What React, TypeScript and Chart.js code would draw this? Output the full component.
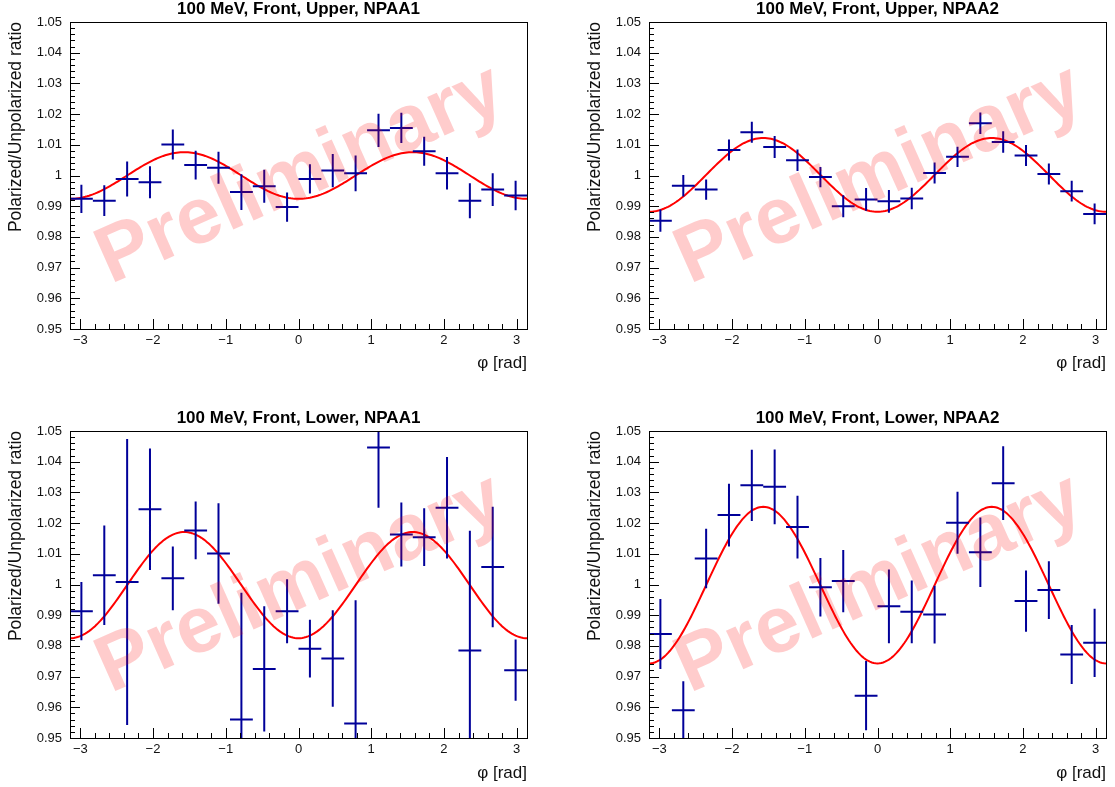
import React, { useEffect, useRef } from 'react';
import { Chart, registerables } from 'chart.js';

Chart.register(...registerables);

// ---------- data ----------
const BIN_CENTERS = [
  -2.985, -2.670, -2.356, -2.042, -1.728, -1.414, -1.100, -0.785, -0.471, -0.157,
  0.157, 0.471, 0.785, 1.100, 1.414, 1.728, 2.042, 2.356, 2.670, 2.985,
];
const BIN_HALF_WIDTH = 0.157;

const TITLES = [
  '100 MeV, Front, Upper, NPAA1',
  '100 MeV, Front, Upper, NPAA2',
  '100 MeV, Front, Lower, NPAA1',
  '100 MeV, Front, Lower, NPAA2',
];

const UPPER_NPAA1_VALUES = [
  0.9924, 0.9918, 0.9989, 0.9978, 1.0101, 1.0034, 1.0025, 0.9946, 0.9965, 0.9897,
  0.9989, 1.0016, 1.0007, 1.0147, 1.0155, 1.0079, 1.0007, 0.9918, 0.9954, 0.9935,
];
const UPPER_NPAA1_ERRORS = [
  0.0046, 0.0050, 0.0057, 0.0052, 0.0049, 0.0047, 0.0052, 0.0058, 0.0054, 0.0048,
  0.0048, 0.0054, 0.0058, 0.0054, 0.0049, 0.0047, 0.0053, 0.0057, 0.0053, 0.0048,
];

const UPPER_NPAA2_VALUES = [
  0.9853, 0.9967, 0.9954, 1.0083, 1.0141, 1.0093, 1.0050, 0.9995, 0.9900, 0.9922,
  0.9916, 0.9925, 1.0008, 1.0061, 1.0170, 1.0109, 1.0065, 1.0005, 0.9949, 0.9875,
];
const UPPER_NPAA2_ERRORS = [
  0.0036, 0.0035, 0.0033, 0.0034, 0.0034, 0.0036, 0.0035, 0.0033, 0.0036, 0.0037,
  0.0037, 0.0035, 0.0034, 0.0033, 0.0035, 0.0035, 0.0034, 0.0034, 0.0034, 0.0034,
];

const LOWER_NPAA1_VALUES = [
  0.9913, 1.0030, 1.0008, 1.0245, 1.0020, 1.0176, 1.0101, 0.9560, 0.9725, 0.9913,
  0.9791, 0.9759, 0.9547, 1.0446, 1.0163, 1.0154, 1.0250, 0.9785, 1.0057, 0.9721,
];
const LOWER_NPAA1_ERRORS = [
  0.0095, 0.0162, 0.0466, 0.0198, 0.0104, 0.0094, 0.0164, 0.0413, 0.0204, 0.0104,
  0.0094, 0.0157, 0.0402, 0.0196, 0.0104, 0.0094, 0.0165, 0.0390, 0.0196, 0.0100,
];

const LOWER_NPAA2_VALUES = [
  0.9839, 0.9590, 1.0085, 1.0226, 1.0323, 1.0318, 1.0187, 0.9991, 1.0011, 0.9638,
  0.9929, 0.9911, 0.9902, 1.0201, 1.0105, 1.0330, 0.9946, 0.9982, 0.9772, 0.9810,
];
const LOWER_NPAA2_ERRORS = [
  0.0114, 0.0095, 0.0097, 0.0102, 0.0116, 0.0122, 0.0102, 0.0095, 0.0101, 0.0113,
  0.0120, 0.0102, 0.0094, 0.0101, 0.0113, 0.0120, 0.0100, 0.0094, 0.0096, 0.0111,
];

// fit: offset - amplitude * cos(2 phi)
const FIT_OFFSETS = [1.0000, 1.0002, 0.9998, 0.9998];
const FIT_AMPLITUDES = [0.0076, 0.0120, 0.0173, 0.0255];

const Y_TICKS = [0.95, 0.96, 0.97, 0.98, 0.99, 1.0, 1.01, 1.02, 1.03, 1.04, 1.05];
const Y_TICK_LABELS = ['0.95', '0.96', '0.97', '0.98', '0.99', '1', '1.01', '1.02', '1.03', '1.04', '1.05'];
const X_TICKS = [-3, -2, -1, 0, 1, 2, 3];
const X_TICK_LABELS = ['\u22123', '\u22122', '\u22121', '0', '1', '2', '3'];

const Y_TITLE = 'Polarized/Unpolarized ratio';
const X_TITLE = '\u03c6 [rad]';
const WATERMARK = 'Preliminary';

const PANEL_VALUES = [UPPER_NPAA1_VALUES, UPPER_NPAA2_VALUES, LOWER_NPAA1_VALUES, LOWER_NPAA2_VALUES];
const PANEL_ERRORS = [UPPER_NPAA1_ERRORS, UPPER_NPAA2_ERRORS, LOWER_NPAA1_ERRORS, LOWER_NPAA2_ERRORS];

// ---------- layout ----------
const PANELS = [
  { left: 0, top: 0, width: 557, height: 393, xTitlePad: 19 },
  { left: 579, top: 0, width: 536, height: 393, xTitlePad: 19 },
  { left: 0, top: 409, width: 557, height: 378, xTitlePad: 3 },
  { left: 579, top: 409, width: 536, height: 378, xTitlePad: 3 },
];
const PLOT_LEFT = 70;
const PLOT_RIGHT = 527;
const PLOT_BOTTOM = 329;

const FONT = '"Liberation Sans", Arial, Helvetica, sans-serif';
const PI = Math.PI;

const rootDecor = {
  id: 'rootDecor',
  afterDatasetsDraw(chart: any) {
    const { ctx, chartArea: a, scales } = chart;
    const xs = scales.x;
    const ys = scales.y;
    // watermark
    ctx.save();
    ctx.translate((a.left + a.right) / 2 + 2, (a.top + a.bottom) / 2);
    ctx.rotate((-24 * PI) / 180);
    ctx.font = `bold 80px ${FONT}`;
    ctx.fillStyle = 'rgba(255,0,0,0.2)';
    ctx.textAlign = 'center';
    ctx.textBaseline = 'middle';
    ctx.fillText(WATERMARK, 0, 0);
    ctx.restore();

    // frame
    ctx.save();
    ctx.strokeStyle = '#000';
    ctx.lineWidth = 1;
    ctx.strokeRect(Math.round(a.left) + 0.5, Math.round(a.top) + 0.5, Math.round(a.right - a.left), Math.round(a.bottom - a.top));
    ctx.beginPath();
    // y ticks
    for (let k = 0; k <= 50; k++) {
      const v = 0.95 + k * 0.002;
      const major = k % 5 === 0;
      const py = Math.round(ys.getPixelForValue(v)) + 0.5;
      ctx.moveTo(a.left, py);
      ctx.lineTo(a.left + (major ? 10 : 5), py);
    }
    // x ticks
    for (let k = -16; k <= 16; k++) {
      const v = k * 0.2;
      if (v < -PI || v > PI) continue;
      const major = k % 5 === 0;
      const px = Math.round(xs.getPixelForValue(v)) + 0.5;
      ctx.moveTo(px, a.bottom);
      ctx.lineTo(px, a.bottom - (major ? 10 : 5));
    }
    ctx.stroke();
    ctx.restore();
  },
};

function buildDatasets(idx: number) {
  const values = PANEL_VALUES[idx];
  const errors = PANEL_ERRORS[idx];
  const hor: any[] = [];
  const ver: any[] = [];
  BIN_CENTERS.forEach((c, i) => {
    hor.push({ x: c - BIN_HALF_WIDTH, y: values[i] }, { x: c + BIN_HALF_WIDTH, y: values[i] }, { x: c, y: null });
    ver.push({ x: c, y: values[i] - errors[i] }, { x: c, y: values[i] + errors[i] }, { x: c, y: null });
  });
  const fit: any[] = [];
  const n = 240;
  for (let k = 0; k <= n; k++) {
    const x = -PI + (2 * PI * k) / n;
    fit.push({ x, y: FIT_OFFSETS[idx] - FIT_AMPLITUDES[idx] * Math.cos(2 * x) });
  }
  const common = { showLine: true, pointRadius: 0, spanGaps: false, clip: 0, tension: 0 };
  return [
    { ...common, label: 'x errors', data: hor, borderColor: '#000099', borderWidth: 2 },
    { ...common, label: 'y errors', data: ver, borderColor: '#000099', borderWidth: 2 },
    { ...common, label: 'fit', data: fit, borderColor: '#ff0000', borderWidth: 2 },
  ];
}

function Panel({ idx }: { idx: number }) {
  const ref = useRef<HTMLCanvasElement>(null);
  const p = PANELS[idx];
  useEffect(() => {
    if (!ref.current) return;
    const chart = new Chart(ref.current, {
      type: 'scatter',
      data: { datasets: buildDatasets(idx) as any },
      plugins: [rootDecor],
      options: {
        responsive: false,
        animation: false,
        events: [],
        layout: { padding: { left: 0, right: p.width - PLOT_RIGHT, top: 0, bottom: 0 } },
        plugins: {
          legend: { display: false },
          tooltip: { enabled: false },
          title: {
            display: true,
            text: TITLES[idx],
            fullSize: false,
            color: '#000',
            font: { family: FONT, size: 17, weight: 'bold', lineHeight: 1.0 },
            padding: { top: 1, bottom: 4 },
          },
        },
        scales: {
          x: {
            type: 'linear',
            min: -PI,
            max: PI,
            grid: { display: false, drawTicks: false },
            border: { display: false },
            afterBuildTicks: (s: any) => {
              s.ticks = X_TICKS.map((v) => ({ value: v }));
            },
            afterFit: (s: any) => {
              s.height = p.height - PLOT_BOTTOM;
            },
            ticks: {
              autoSkip: false,
              maxRotation: 0,
              padding: 4,
              color: '#111',
              font: { family: FONT, size: 13 },
              callback: (v: any) => {
                const i = X_TICKS.indexOf(Number(v));
                return i >= 0 ? X_TICK_LABELS[i] : '';
              },
            },
            title: {
              display: true,
              text: X_TITLE,
              align: 'end',
              color: '#111',
              font: { family: FONT, size: 17 },
              padding: { top: 0, bottom: p.xTitlePad },
            },
          },
          y: {
            type: 'linear',
            min: 0.95,
            max: 1.05,
            grid: { display: false, drawTicks: false },
            border: { display: false },
            afterBuildTicks: (s: any) => {
              s.ticks = Y_TICKS.map((v) => ({ value: v }));
            },
            afterFit: (s: any) => {
              s.width = PLOT_LEFT;
            },
            ticks: {
              autoSkip: false,
              padding: 8,
              color: '#111',
              font: { family: FONT, size: 13 },
              callback: (v: any) => {
                const i = Y_TICKS.findIndex((t) => Math.abs(t - Number(v)) < 1e-6);
                return i >= 0 ? Y_TICK_LABELS[i] : '';
              },
            },
            title: {
              display: true,
              text: Y_TITLE,
              align: 'end',
              color: '#111',
              font: { family: FONT, size: 17.5 },
              padding: { top: 6, bottom: 0 },
            },
          },
        },
      } as any,
    });
    return () => chart.destroy();
  }, [idx]);
  return (
    <canvas
      ref={ref}
      width={p.width}
      height={p.height}
      style={{ position: 'absolute', left: p.left, top: p.top, width: p.width, height: p.height, display: 'block' }}
    />
  );
}

export default function App() {
  return (
    <div style={{ position: 'absolute', left: 0, top: 0, width: 1115, height: 787, overflow: 'hidden', background: '#fff' }}>
      {[0, 1, 2, 3].map((i) => (
        <Panel key={i} idx={i} />
      ))}
    </div>
  );
}
